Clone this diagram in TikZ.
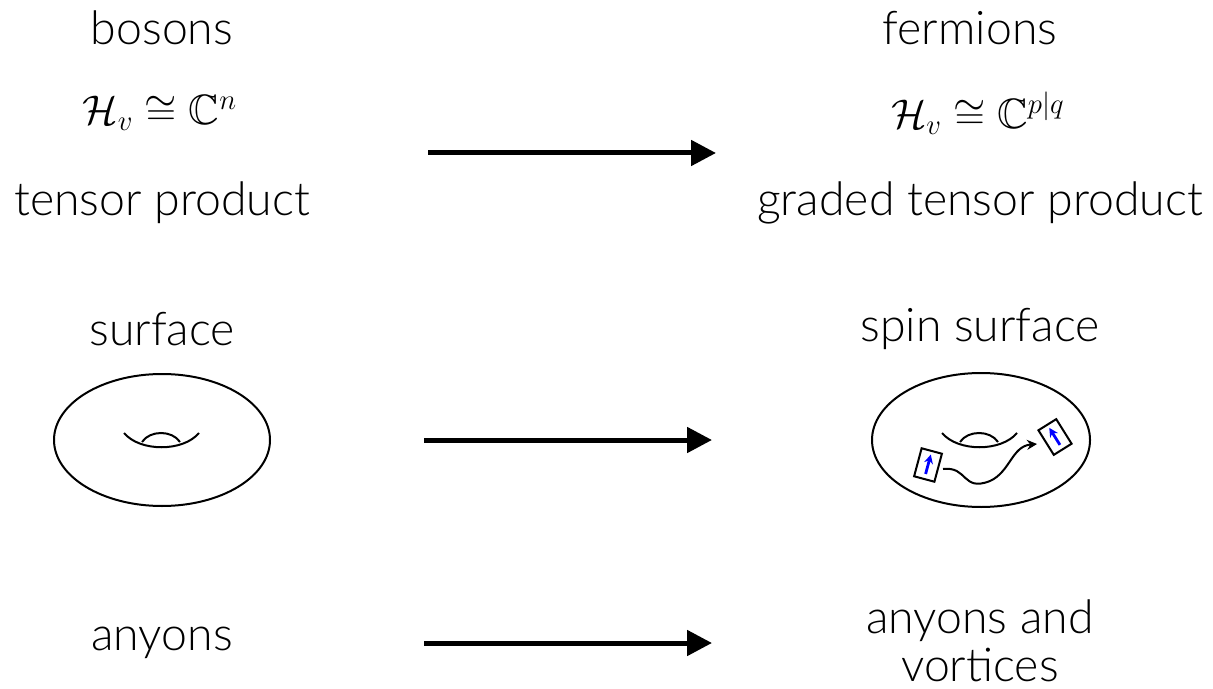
\documentclass[tikz,border=0pt]{standalone}
\usepackage[no-math]{fontspec}
\setmainfont{Lato}[UprightFont=* Light]
\usepackage{amssymb}
\usetikzlibrary{arrows.meta,calc,shapes.geometric}
\begin{document}
\begin{tikzpicture}[x=0.5pt,y=-0.5pt,
  lbl/.style={inner sep=0pt,font=\fontsize{23.2}{26}\selectfont,align=center},
  mth/.style={inner sep=0pt,font=\fontsize{21.2}{24}\selectfont},
  bigarrow/.style={line width=2.5pt,-{Triangle[length=12.5pt,width=12.5pt]}},
  surf/.style={line width=1pt},
  spinbox/.style={draw,line width=1pt,minimum width=10.5pt,minimum height=14.5pt,inner sep=0pt},
  spinarrow/.style={blue,line width=1.4pt,-{Stealth[length=4.5pt,width=4.5pt]}}]
\useasboundingbox (0,0) rectangle (1213,689);

% row 1: Hilbert spaces
\node[lbl] (bos) at (162,28) {bosons};
\node[mth] (hb) at (160,113) {$\mathcal{H}_v\cong\mathbb{C}^n$};
\node[lbl] (tp) at (162,203) {tensor product};
\node[lbl] (fer) at (970,28) {fermions};
\node[mth] (hf) at (978,113) {$\mathcal{H}_v\cong\mathbb{C}^{p|q}$};
\node[lbl] (gtp) at (980,203) {graded tensor product};
\coordinate (a1s) at (428,153);
\coordinate (a1e) at (716,153);
\draw[bigarrow] (a1s) -- (a1e);

% row 2: surfaces
\node[lbl] (sf) at (162,329) {surface};
\node[lbl] (ssf) at (980,329) {spin surface};
\node[draw,surf,ellipse,minimum width=108pt,minimum height=66pt,inner sep=0pt] (t1) at (162,440) {};
\draw[surf] (124,433) .. controls (140,452) and (183,452) .. (199,433);
\draw[surf] (142,442) .. controls (150,430) and (172,430) .. (180,442);
\node[draw,surf,ellipse,minimum width=109pt,minimum height=67pt,inner sep=0pt] (t2) at (981,440) {};
\draw[surf] (942,433) .. controls (958,452) and (1001,452) .. (1017,433);
\draw[surf] (960,442) .. controls (968,430) and (990,430) .. (998,442);
\node[spinbox,rotate=-15] (b1) at (928,465) {};
\node[spinbox,rotate=32] (b2) at (1055,437) {};
\draw[spinarrow] ($(b1.south)!0.2!(b1.north)$) -- ($(b1.south)!0.85!(b1.north)$);
\draw[spinarrow] ($(b2.south)!0.2!(b2.north)$) -- ($(b2.south)!0.85!(b2.north)$);
\coordinate (wstart) at (943,469);
\coordinate (wend) at (1037,444);
\draw[line width=1pt,-{Stealth[length=5pt,width=5pt]}] (wstart) .. controls (968,466) and (962,492) .. (990,481) .. controls (1010,472) and (1012,446) .. (wend);
\coordinate (a2s) at (424,440);
\coordinate (a2e) at (712,440);
\draw[bigarrow] (a2s) -- (a2e);

% row 3: excitations
\node[lbl] (any) at (162,643) {anyons};
\node[lbl] (anv) at (980,641) {anyons and\\[-2pt]vortices};
\coordinate (a3s) at (424,643);
\coordinate (a3e) at (712,643);
\draw[bigarrow] (a3s) -- (a3e);
\end{tikzpicture}
\end{document}
